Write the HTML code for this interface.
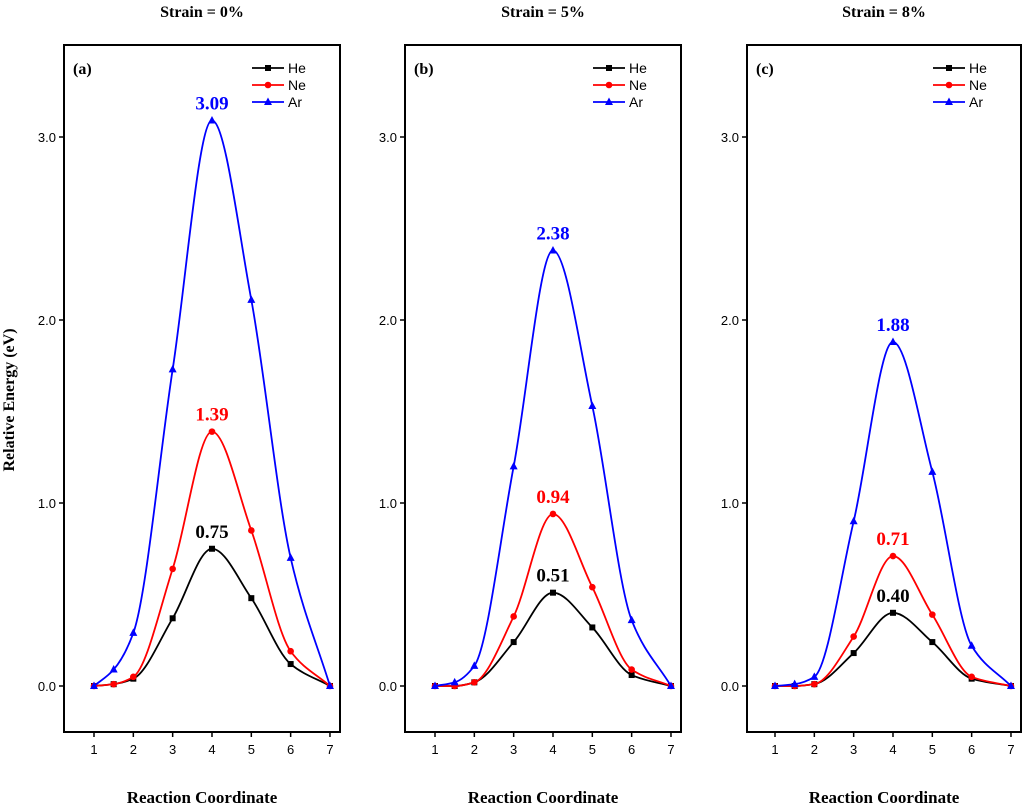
<!DOCTYPE html>
<html><head><meta charset="utf-8"><style>
html,body{margin:0;padding:0;background:#fff;}
svg{display:block;}
</style></head><body>
<svg id="chart" width="1024" height="807" xmlns="http://www.w3.org/2000/svg"></svg>
<script>
const xs = [1, 1.5, 2, 3, 4, 5, 6, 7];
const panelTitles = ["Strain = 0%", "Strain = 5%", "Strain = 8%"];
const panelLabels = ["(a)", "(b)", "(c)"];
const heA = [0, 0.01, 0.04, 0.37, 0.75, 0.48, 0.12, 0];
const neA = [0, 0.01, 0.05, 0.64, 1.39, 0.85, 0.19, 0];
const arA = [0, 0.09, 0.29, 1.73, 3.09, 2.11, 0.70, 0];
const heB = [0, 0.00, 0.02, 0.24, 0.51, 0.32, 0.06, 0];
const neB = [0, 0.00, 0.02, 0.38, 0.94, 0.54, 0.09, 0];
const arB = [0, 0.02, 0.11, 1.20, 2.38, 1.53, 0.36, 0];
const heC = [0, 0.00, 0.01, 0.18, 0.40, 0.24, 0.04, 0];
const neC = [0, 0.00, 0.01, 0.27, 0.71, 0.39, 0.05, 0];
const arC = [0, 0.01, 0.05, 0.90, 1.88, 1.17, 0.22, 0];
const peaksA = ["0.75", "1.39", "3.09"];
const peaksB = ["0.51", "0.94", "2.38"];
const peaksC = ["0.40", "0.71", "1.88"];
const xTicks = [1, 2, 3, 4, 5, 6, 7];
const yTicks = [0, 1, 2, 3];
const yTickLabels = ["0.0", "1.0", "2.0", "3.0"];
const seriesNames = ["He", "Ne", "Ar"];

const NS = "http://www.w3.org/2000/svg";
const svg = document.getElementById("chart");
function mk(tag, attrs, parent) {
  const e = document.createElementNS(NS, tag);
  for (const k in attrs) e.setAttribute(k, attrs[k]);
  (parent || svg).appendChild(e);
  return e;
}
const colors = ["#000000", "#ff0000", "#0000ff"];
const panels = [
  {left: 64, right: 340, x1: 94, data: [heA, neA, arA], peaks: peaksA},
  {left: 405, right: 681, x1: 435, data: [heB, neB, arB], peaks: peaksB},
  {left: 747, right: 1021, x1: 775, data: [heC, neC, arC], peaks: peaksC}
];
const plotTop = 45, plotBottom = 732, y0 = 686, yUnit = 183, xUnit = 39.33;

function marker(g, type, cx, cy, color) {
  let m;
  if (type === 0) m = mk("rect", {x: cx - 3, y: cy - 3, width: 6, height: 6, fill: color}, g);
  else if (type === 1) m = mk("circle", {cx: cx, cy: cy, r: 3.3, fill: color}, g);
  else m = mk("polygon", {points: `${cx},${cy - 4.5} ${cx - 4},${cy + 3} ${cx + 4},${cy + 3}`, fill: color}, g);
  
  
}

// monotone cubic (Fritsch-Carlson) tangents in pixel space
function monotonePath(pts) {
  const n = pts.length, dx = [], m = [], t = [];
  for (let i = 0; i < n - 1; i++) { dx[i] = pts[i+1][0] - pts[i][0]; m[i] = (pts[i+1][1] - pts[i][1]) / dx[i]; }
  t[0] = m[0]; t[n-1] = m[n-2];
  for (let i = 1; i < n - 1; i++) {
    if (m[i-1] * m[i] <= 0) t[i] = 0;
    else { const w1 = 2*dx[i] + dx[i-1], w2 = dx[i] + 2*dx[i-1]; t[i] = (w1 + w2) / (w1 / m[i-1] + w2 / m[i]); }
  }
  let d = `M${pts[0][0]},${pts[0][1]}`;
  for (let i = 0; i < n - 1; i++) {
    const h = dx[i] / 3;
    d += ` C${pts[i][0] + h},${pts[i][1] + t[i]*h} ${pts[i+1][0] - h},${pts[i+1][1] - t[i+1]*h} ${pts[i+1][0]},${pts[i+1][1]}`;
  }
  return d;
}

const yt = mk("text", {x: 0, y: 0, transform: "translate(14,400) rotate(-90)", "text-anchor": "middle", "font-family": "Liberation Serif, serif", "font-weight": "bold", "font-size": "16"});
yt.textContent = "Relative Energy (eV)";



panels.forEach((p, pi) => {
  const g = mk("g", {});
  
  
  const X = v => p.x1 + (v - 1) * xUnit;
  const Y = v => y0 - v * yUnit;
  const cx = (p.left + p.right) / 2;

  const t = mk("text", {x: cx, y: 17, "text-anchor": "middle", "font-family": "Liberation Serif, serif", "font-weight": "bold", "font-size": "16"}, g);
  t.textContent = panelTitles[pi];
  
  

  const xt = mk("text", {x: cx, y: 803, "text-anchor": "middle", "font-family": "Liberation Serif, serif", "font-weight": "bold", "font-size": "17"}, g);
  xt.textContent = "Reaction Coordinate";
  
  

  const fr = mk("rect", {x: p.left, y: plotTop, width: p.right - p.left, height: plotBottom - plotTop, fill: "none", stroke: "#000", "stroke-width": 2}, g);
  
  

  xTicks.forEach(v => {
    mk("line", {x1: X(v), x2: X(v), y1: plotBottom, y2: plotBottom + 5, stroke: "#000", "stroke-width": 1.5}, g);
    const l = mk("text", {x: X(v), y: plotBottom + 22, "text-anchor": "middle", "font-family": "Liberation Sans, sans-serif", "font-size": "13"}, g);
    l.textContent = v;
    
    
  });
  yTicks.forEach((v, i) => {
    mk("line", {x1: p.left - 5, x2: p.left, y1: Y(v), y2: Y(v), stroke: "#000", "stroke-width": 1.5}, g);
    const l = mk("text", {x: p.left - 8, y: Y(v) + 5, "text-anchor": "end", "font-family": "Liberation Sans, sans-serif", "font-size": "13"}, g);
    l.textContent = yTickLabels[i];
    
    
  });

  const pl = mk("text", {x: p.left + 9, y: 74, "font-family": "Liberation Serif, serif", "font-weight": "bold", "font-size": "16"}, g);
  pl.textContent = panelLabels[pi];
  
  

  p.data.forEach((ser, si) => {
    const pts = xs.map((x, i) => [X(x), Y(ser[i])]);
    const path = mk("path", {d: monotonePath(pts), fill: "none", stroke: colors[si], "stroke-width": 1.8}, g);
    
    
    pts.forEach(pt => marker(g, si, pt[0], pt[1], colors[si]));
    const pk = mk("text", {x: X(4), y: Y(ser[4]) - 11, "text-anchor": "middle", "font-family": "Liberation Serif, serif", "font-weight": "bold", "font-size": "19", fill: colors[si]}, g);
    pk.textContent = p.peaks[si];
    
    

    const ly = 68 + si * 17;
    const lx = p.right - 88;
    const lg = mk("g", {}, g);
    
    
    mk("line", {x1: lx, x2: lx + 32, y1: ly, y2: ly, stroke: colors[si], "stroke-width": 1.8}, lg);
    marker(lg, si, lx + 16, ly, colors[si]);
    const lt = mk("text", {x: lx + 36, y: ly + 5, "font-family": "Liberation Sans, sans-serif", "font-size": "14"}, lg);
    lt.textContent = seriesNames[si];
  });
});
</script>
</body></html>
